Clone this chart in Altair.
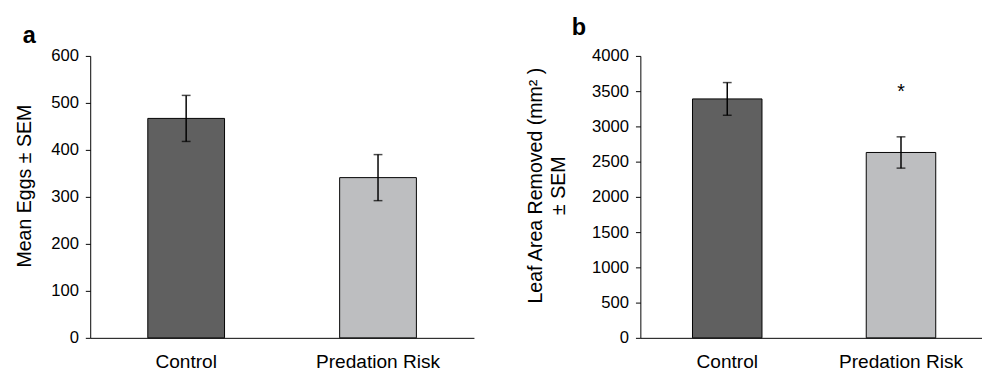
import altair as alt
import pandas as pd

groups = ["Control", "Predation Risk"]
bar_colors = ["#606060", "#BDBEC0"]

eggs_mean = [467, 341]
eggs_sem = [49, 49]

leaf_mean = [3390, 2630]
leaf_sem = [232, 222]

sig_marks = ["", "*"]
sig_y = [None, 3486]

FONT = "Liberation Sans"


def make_df(means, sems):
    return pd.DataFrame({
        "group": groups,
        "mean": means,
        "lo": [m - s for m, s in zip(means, sems)],
        "hi": [m + s for m, s in zip(means, sems)],
    })


def panel(df, ytitle, ymax, ystep, width, letter, title_x, title_y, letter_dx, letter_dy,
          sig_df=None):
    yaxis = alt.Axis(
        title=ytitle, values=list(range(0, ymax + 1, ystep)), grid=False, format="d",
        domainColor="black", tickColor="black", tickSize=5, labelPadding=7,
        labelFontSize=17, labelColor="black", titleFontSize=20,
        titleFontWeight="normal", titleColor="black", titleX=title_x, titleY=title_y,
        titleBaseline="bottom", titleLineHeight=23.5,
    )
    yscale = alt.Scale(domain=[0, ymax], nice=False)
    x = alt.X(
        "group:N", sort=groups, scale=alt.Scale(paddingInner=0, paddingOuter=0),
        axis=alt.Axis(title=None, labelAngle=0, ticks=False, tickSize=0,
                      domainColor="black", labelFontSize=19.5, labelPadding=15,
                      labelColor="black"),
    )
    bars = alt.Chart(df).mark_bar(width=alt.RelativeBandSize(0.4), stroke="black", strokeWidth=1).encode(
        x=x,
        y=alt.Y("mean:Q", scale=yscale, axis=yaxis),
        color=alt.Color("group:N", scale=alt.Scale(domain=groups, range=bar_colors), legend=None),
    )
    rule = alt.Chart(df).mark_rule(color="black", strokeWidth=1.5).encode(
        x=x, y=alt.Y("lo:Q", scale=yscale, axis=yaxis), y2="hi:Q"
    )
    cap_lo = alt.Chart(df).mark_tick(color="black", thickness=1.5, size=9).encode(
        x=x, y=alt.Y("lo:Q", scale=yscale, axis=yaxis)
    )
    cap_hi = alt.Chart(df).mark_tick(color="black", thickness=1.5, size=9).encode(
        x=x, y=alt.Y("hi:Q", scale=yscale, axis=yaxis)
    )
    layers = [bars, rule, cap_lo, cap_hi]
    if sig_df is not None:
        layers.append(
            alt.Chart(sig_df).mark_text(fontSize=20, color="black", baseline="middle").encode(
                x=x, y=alt.Y("y:Q", scale=yscale, axis=yaxis), text="label:N"
            )
        )
    return alt.layer(*layers).properties(
        width=width, height=288,
        title=alt.TitleParams(text=letter, anchor="start", frame="group", fontSize=24,
                              fontWeight="bold", color="black", dx=letter_dx, dy=letter_dy,
                              offset=0),
    )


df_a = make_df(eggs_mean, eggs_sem)
df_b = make_df(leaf_mean, leaf_sem)
df_sig = pd.DataFrame({"group": groups, "label": sig_marks, "y": sig_y}).dropna()

panel_a = panel(df_a, "Mean Eggs ± SEM", 600, 100, 392, "a", -57, 132.5, -69, 0.5)
panel_b = panel(df_b, ["Leaf Area Removed (mm² )", "± SEM"], 4000, 500, 355, "b",
                -96.5, 132, -70, -7.5, sig_df=df_sig)

chart = alt.hconcat(panel_a, panel_b, spacing=53).properties(
    padding={"left": 6, "top": 4, "right": -6, "bottom": 0}
).configure(font=FONT).configure_view(strokeOpacity=0)

chart.save("out.html", embed_options={"renderer": "svg", "actions": False})
